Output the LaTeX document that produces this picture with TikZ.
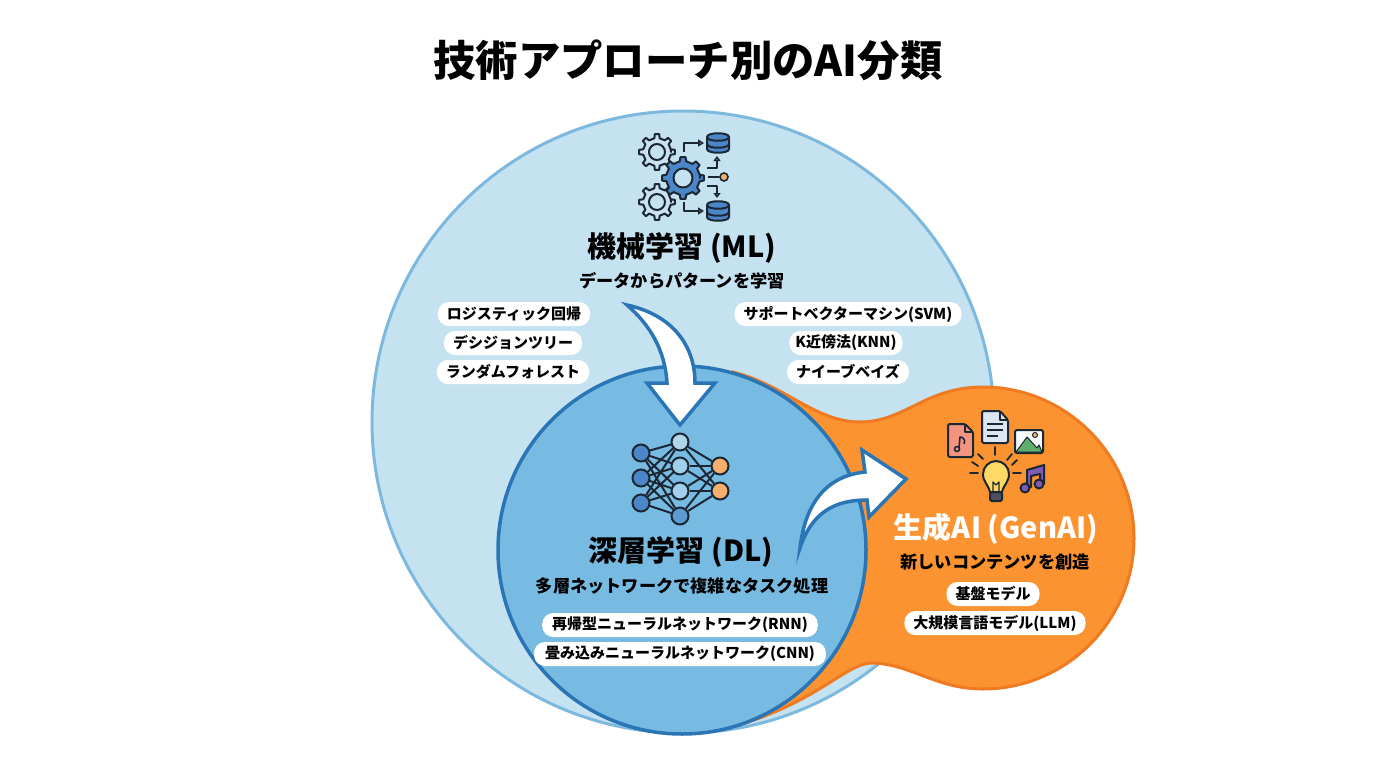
\documentclass[tikz,border=0pt]{standalone}
\usepackage{fontspec}
\setmainfont{Noto Sans CJK JP}
\definecolor{mlfill}{HTML}{C5E2F1}
\definecolor{mledge}{HTML}{7DB9DE}
\definecolor{dlfill}{HTML}{78BBE2}
\definecolor{dledge}{HTML}{2A75B5}
\definecolor{genfill}{HTML}{FB9330}
\definecolor{genedge}{HTML}{EF7A22}
\definecolor{ink}{HTML}{1B2733}
\definecolor{gearblue}{HTML}{4A86C8}
\definecolor{gearpale}{HTML}{C9E1F0}
\definecolor{tipor}{HTML}{F5AE6C}
\definecolor{notered}{HTML}{F39480}
\definecolor{pagegray}{HTML}{DCE6F0}
\definecolor{hillgreen}{HTML}{5FAE6E}
\definecolor{bulbyellow}{HTML}{FFD966}
\definecolor{notepurple}{HTML}{7E5BB5}
\usetikzlibrary{arrows.meta}

\begin{document}
\begin{tikzpicture}
[
	x=1pt,y=-1pt,
	pill/.style={rectangle,fill=white,rounded corners=11pt,minimum height=24pt,inner xsep=9pt,inner ysep=0pt,font=\bfseries\fontsize{15}{15}\selectfont,text=black},
	head/.style={font=\bfseries\fontsize{29}{29}\selectfont,inner sep=0pt},
	sub/.style={font=\bfseries\fontsize{17.2}{17}\selectfont,inner sep=0pt},
	icon/.style={draw=ink,line width=2pt,line join=round},
	neuron/.style={circle,draw=ink,line width=2pt,minimum size=17pt,inner sep=0pt},
	bigarrow/.style={fill=white,draw=dledge,line width=3.5pt,line join=miter},
	ray/.style={draw=ink,line width=1.8pt,line cap=round},
	gearwheel/.pic={
		\draw[icon,fill=#1] (0:\gearr)
			\foreach \a in {0,45,...,315}{
				-- (\a-11:\gearr) -- (\a-7:\gearr+4) -- (\a+7:\gearr+4) -- (\a+11:\gearr) -- (\a+34:\gearr)
			} -- cycle;
		\draw[icon,fill=mlfill] (0,0) circle (\gearh);
	},
	drum/.pic={
		\draw[icon,fill=gearblue] (-11,-6) -- (-11,6) .. controls (-11,11) and (11,11) .. (11,6) -- (11,-6) .. controls (11,-11) and (-11,-11) .. (-11,-6) -- cycle;
		\draw[icon] (-11,-6) .. controls (-11,-1) and (11,-1) .. (11,-6);
		\draw[icon] (-11,1) .. controls (-11,6) and (11,6) .. (11,1);
	}
]

\useasboundingbox (0,0) rectangle (1376,768);
\fill[white] (0,0) rectangle (1376,768);

\node[font=\bfseries\fontsize{42.4}{42}\selectfont,inner sep=0pt] (title) at (688,60) {技術アプローチ別のAI分類};

% three areas
\node[circle,fill=mlfill,draw=mledge,line width=3pt,minimum size=622pt,inner sep=0pt] (ml) at (683,422) {};
\draw[fill=genfill,draw=genedge,line width=3pt] (733,372) .. controls (785,385) and (815,422) .. (860,422) .. controls (905,422) and (925,387) .. (983,387)
	.. controls (1066,387) and (1134,455) .. (1134,538) .. controls (1134,621) and (1066,689) .. (983,689)
	.. controls (935,689) and (910,663) .. (870,663) .. controls (845,665) and (815,703) .. (735,726) -- cycle;
\node[circle,fill=dlfill,draw=dledge,line width=3.5pt,minimum size=368pt,inner sep=0pt] (dl) at (682,550) {};

% ML
\node[head] (mlhead) at (682,248) {機械学習 (ML)};
\node[sub] (mlsub) at (682,281) {データからパターンを学習};
\node[pill] (logreg) at (514,314) {ロジスティック回帰};
\node[pill] (dtree) at (513,343) {デシジョンツリー};
\node[pill] (rforest) at (513,372) {ランダムフォレスト};
\node[pill] (svm) at (848,314) {サポートベクターマシン(SVM)};
\node[pill,inner xsep=6pt] (knn) at (846,343) {K近傍法(KNN)};
\node[pill] (nbayes) at (848,372) {ナイーブベイズ};

% DL
\node[head] (dlhead) at (681,552) {深層学習 (DL)};
\node[sub] (dlsub) at (682,586) {多層ネットワークで複雑なタスク処理};
\node[pill,inner xsep=10pt] (rnn) at (680,625) {再帰型ニューラルネットワーク(RNN)};
\node[pill,inner xsep=11pt] (cnn) at (680,654) {畳み込みニューラルネットワーク(CNN)};

% GenAI
\node[head,text=white] (genhead) at (996,529) {生成AI (GenAI)};
\node[sub] (gensub) at (995,562) {新しいコンテンツを創造};
\node[pill] (basemodel) at (993,594) {基盤モデル};
\node[pill] (llm) at (995,623) {大規模言語モデル(LLM)};

% block arrows
\draw[bigarrow] (627,305) .. controls (672,315) and (695,345) .. (695,383) -- (715,383) -- (680,425) -- (647,383) -- (667,383) .. controls (665,350) and (650,325) .. (627,305) -- cycle;
\draw[bigarrow] (800,548) .. controls (805,505) and (825,476) .. (865,472) -- (862,450) -- (906,479) -- (869,517) -- (867,500) .. controls (835,500) and (812,512) .. (800,548) -- cycle;

% ML icon
\def\gearr{14}\def\gearh{8}
\pic at (657,152) {gearwheel=gearpale};
\pic at (657,202) {gearwheel=gearpale};
\def\gearr{17}\def\gearh{9.5}
\pic at (683,178) {gearwheel=gearblue};
\pic at (718,143) {drum};
\pic at (718,211) {drum};
\draw[icon,-{Triangle[length=6pt,width=7pt,fill=tipor]}] (684,152) -- (684,143) -- (704,143);
\draw[icon,-{Triangle[length=6pt,width=7pt,fill=tipor]}] (684,202) -- (684,211) -- (704,211);
\draw[icon,-{Triangle[length=5pt,width=7pt,fill=gearblue]}] (707,168) -- (717,168) -- (717,156);
\draw[icon,-{Triangle[length=5pt,width=7pt,fill=gearblue]}] (707,186) -- (717,186) -- (717,198);
\node[circle,draw=ink,line width=1.6pt,fill=tipor,minimum size=8pt,inner sep=0pt] (hub) at (724,177) {};
\coordinate (hubin) at (708,177);
\draw[icon] (hubin) -- (hub);

% neural net
\foreach \n/\y in {1/453,2/478,3/503}
	\node[neuron,fill=gearblue] (a\n) at (641,\y) {};
\node[neuron,fill=gearpale!70!dlfill] (b1) at (680,442) {};
\node[neuron,fill=white!30!dlfill] (b2) at (680,466) {};
\node[neuron,fill=white!30!dlfill] (b3) at (680,491) {};
\node[neuron,fill=gearblue!60!dlfill] (b4) at (680,516) {};
\foreach \n/\y in {1/466,2/491}
	\node[neuron,fill=tipor] (c\n) at (720,\y) {};
\foreach \i in {1,2,3}
	\foreach \j in {1,2,3,4}
		\draw[icon] (a\i) -- (b\j);
\foreach \j in {1,2,3,4}
	\foreach \k in {1,2}
		\draw[icon] (b\j) -- (c\k);

% GenAI icon
\begin{scope}[rounded corners=1.5pt]
\draw[icon,fill=notered] (948,424) -- (965,424) -- (973,432) -- (973,457) -- (948,457) -- cycle;
\draw[icon,fill=pagegray] (982,411) -- (1000,411) -- (1008,420) -- (1008,443) -- (982,443) -- cycle;
\draw[icon,fill=white!85!mlfill] (1015,430) rectangle (1043,453);
\end{scope}
\draw[icon,line width=1.2pt] (965,424) -- (965,432) -- (973,432);
\draw[icon,line width=1.2pt] (1000,411) -- (1000,420) -- (1008,420);
\draw[icon,line width=1.6pt] (987,424) -- (1003,424) (987,430) -- (1003,430) (987,436) -- (998,436);
\draw[icon,line width=1.6pt] (959,448) -- (960,437) .. controls (963,437) and (966,440) .. (964,444);
\draw[icon,line width=1.6pt] (957,449) circle (2.5);
\draw[draw=ink,line width=1pt,fill=hillgreen,line join=round] (1016,452) -- (1027,437) -- (1037,448) -- (1039,445) -- (1042,452) -- cycle;
\draw[draw=ink,line width=1pt,fill=tipor] (1035,435) circle (2.5);

\foreach \ax/\ay/\bx/\by in {995/447/995/455,978/454/983/459,972/462/978/466,970/473/978/473,1012/454/1007/460,1017/460/1012/465,1013/473/1021/473}
	\draw[ray] (\ax,\ay) -- (\bx,\by);
\draw[icon,fill=bulbyellow] (990,492) .. controls (988,484) and (983,482) .. (983,474) .. controls (983,467) and (989,461) .. (996,461) .. controls (1003,461) and (1009,467) .. (1009,474) .. controls (1009,482) and (1004,484) .. (1002,492) -- cycle;
\draw[icon,line width=1.3pt] (993,492) -- (993,482) -- (996,485) -- (999,482) -- (999,492);
\draw[icon,fill=ink!80!white,rounded corners=1.5pt] (990,492) rectangle (1002,501);
\draw[icon,fill=notepurple] (1027,487) -- (1027,470) -- (1044,465) -- (1044,484) -- (1040,484) -- (1040,474) -- (1031,476) -- (1031,487) -- cycle;
\draw[icon,fill=notepurple] (1025,488) circle (4.5);
\draw[icon,fill=notepurple] (1039,484) circle (4.5);

\end{tikzpicture}
\end{document}
